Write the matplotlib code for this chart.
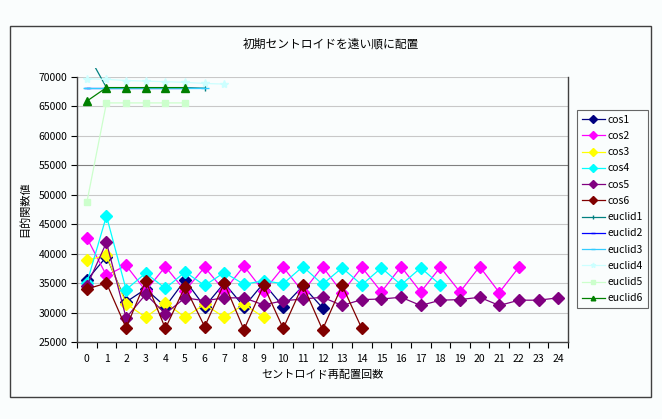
import matplotlib
matplotlib.use("Agg")
import matplotlib.pyplot as plt
from matplotlib.patches import Rectangle
import numpy as np

plt.rcParams["font.family"] = ["Noto Sans CJK JP", "DejaVu Sans"]

# ---- data ----
cos1 = [35500, 39500, 31800, 34000, 31000, 35500, 31000, 35000, 31000, 35000,
        31000, 34500, 30800]
cos2 = [42700, 36300, 38000, 33700, 37800, 33700, 37700, 33700, 37900, 33600,
        37700, 33500, 37800, 33400, 37700, 33500, 37800, 33500, 37700, 33500,
        37800, 33400, 37700]
cos3 = [38900, 39700, 31500, 29200, 31700, 29200, 31400, 29200, 31400, 29200]
cos4 = [35000, 46400, 33900, 36700, 34100, 36900, 34600, 36800, 34800, 35400,
        34900, 37800, 34800, 37600, 34700, 37600, 34700, 37600, 34700]
cos5 = [34500, 41900, 29100, 33100, 29800, 32500, 32000, 32500, 32500, 31300,
        32000, 32300, 32600, 31200, 32200, 32300, 32600, 31200, 32100, 32200,
        32600, 31200, 32100, 32100, 32500]
cos6 = [34000, 35000, 27400, 35400, 27300, 34400, 27600, 35000, 27100, 34600,
        27300, 34700, 27100, 34600, 27300]
euclid1 = [74200, 68200, 68200, 68200, 68200, 68200, 68100]
euclid2 = [68200, 68200, 68200, 68200, 68200, 68200]
euclid3 = [68200, 68200, 68200, 68200, 68200, 68200, 68200]
euclid4 = [69700, 69600, 69400, 69300, 69200, 69100, 68900, 68800]
euclid5 = [48700, 65600, 65600, 65600, 65600, 65600]
euclid6 = [65900, 68200, 68200, 68200, 68200, 68200]

series = [
    ("cos1", cos1, "#000080", "D", 6.6),
    ("cos2", cos2, "#FF00FF", "D", 6.6),
    ("cos3", cos3, "#FFFF00", "D", 6.6),
    ("cos4", cos4, "#00FFFF", "D", 6.6),
    ("cos5", cos5, "#800080", "D", 6.6),
    ("cos6", cos6, "#800000", "D", 6.6),
    ("euclid1", euclid1, "#008080", "|", 5),
    ("euclid2", euclid2, "#0000FF", "_", 5),
    ("euclid3", euclid3, "#33CCFF", "_", 6),
    ("euclid4", euclid4, "#CCFFFF", "*", 6),
    ("euclid5", euclid5, "#CCFFCC", "s", 5),
    ("euclid6", euclid6, "#008000", "^", 5.5),
]

x_labels = [str(i) for i in range(25)]

bg = "#fafdfd"
fig = plt.figure(figsize=(6.62, 4.19), dpi=100, facecolor=bg)
W, H = 662, 419

# outer chart border
fig.patches.append(Rectangle((10 / W, 1 - 397 / H), 641 / W, 371 / H,
                             transform=fig.transFigure, fill=False,
                             edgecolor="#404040", lw=1.0))

ax = fig.add_axes([77 / W, 1 - 342 / H, 491 / W, 265 / H], facecolor=bg)

clip = Rectangle((0, 0), 1, 1.035, transform=ax.transAxes)
for name, vals, col, mk, ms in series:
    xs = np.arange(len(vals))
    ln, = ax.plot(xs, vals, color=col, lw=0.9, marker=mk, markersize=ms,
                  markerfacecolor=col, markeredgecolor=col, label=name,
                  zorder=3)
    ln.set_clip_path(clip)

ax.set_xlim(-0.5, 24.5)
ax.set_ylim(25000, 70000)
ax.set_yticks(np.arange(25000, 70001, 5000))
ax.set_xticks(range(25))
ax.set_xticklabels(x_labels)
ax.set_xticks(np.arange(-0.5, 25, 1), minor=True)
ax.tick_params(axis="x", which="major", length=0, pad=9, labelsize=7.5)
ax.tick_params(axis="x", which="minor", length=4, width=0.8, direction="out")
ax.tick_params(axis="y", length=4, width=0.8, labelsize=7.5, pad=3)

for v in range(30000, 70001, 5000):
    ax.axhline(v, color="#808080" if v == 55000 else "#c8c8c8",
               lw=0.8, zorder=1)
for sp in ax.spines.values():
    sp.set_color("#404040")
    sp.set_linewidth(1.0)
ax.spines["top"].set_visible(False)

ax.set_xlabel("セントロイド再配置回数", fontsize=8, labelpad=4)
ax.set_ylabel("目的関数値", fontsize=8, labelpad=6)
fig.text(331 / W, 1 - 44 / H, "初期セントロイドを遠い順に配置",
         ha="center", va="center", fontsize=8.5)

leg = fig.legend(loc="upper left", bbox_to_anchor=(577 / W, 1 - 110 / H),
                 fontsize=7.5, frameon=True, fancybox=False,
                 borderaxespad=0, handlelength=2.2, handletextpad=0.3,
                 labelspacing=0.6, borderpad=0.45, markerscale=0.6)
leg.get_frame().set_edgecolor("#404040")
leg.get_frame().set_linewidth(0.8)
leg.get_frame().set_facecolor(bg)

fig.savefig("out.png", dpi=100, facecolor=bg)
